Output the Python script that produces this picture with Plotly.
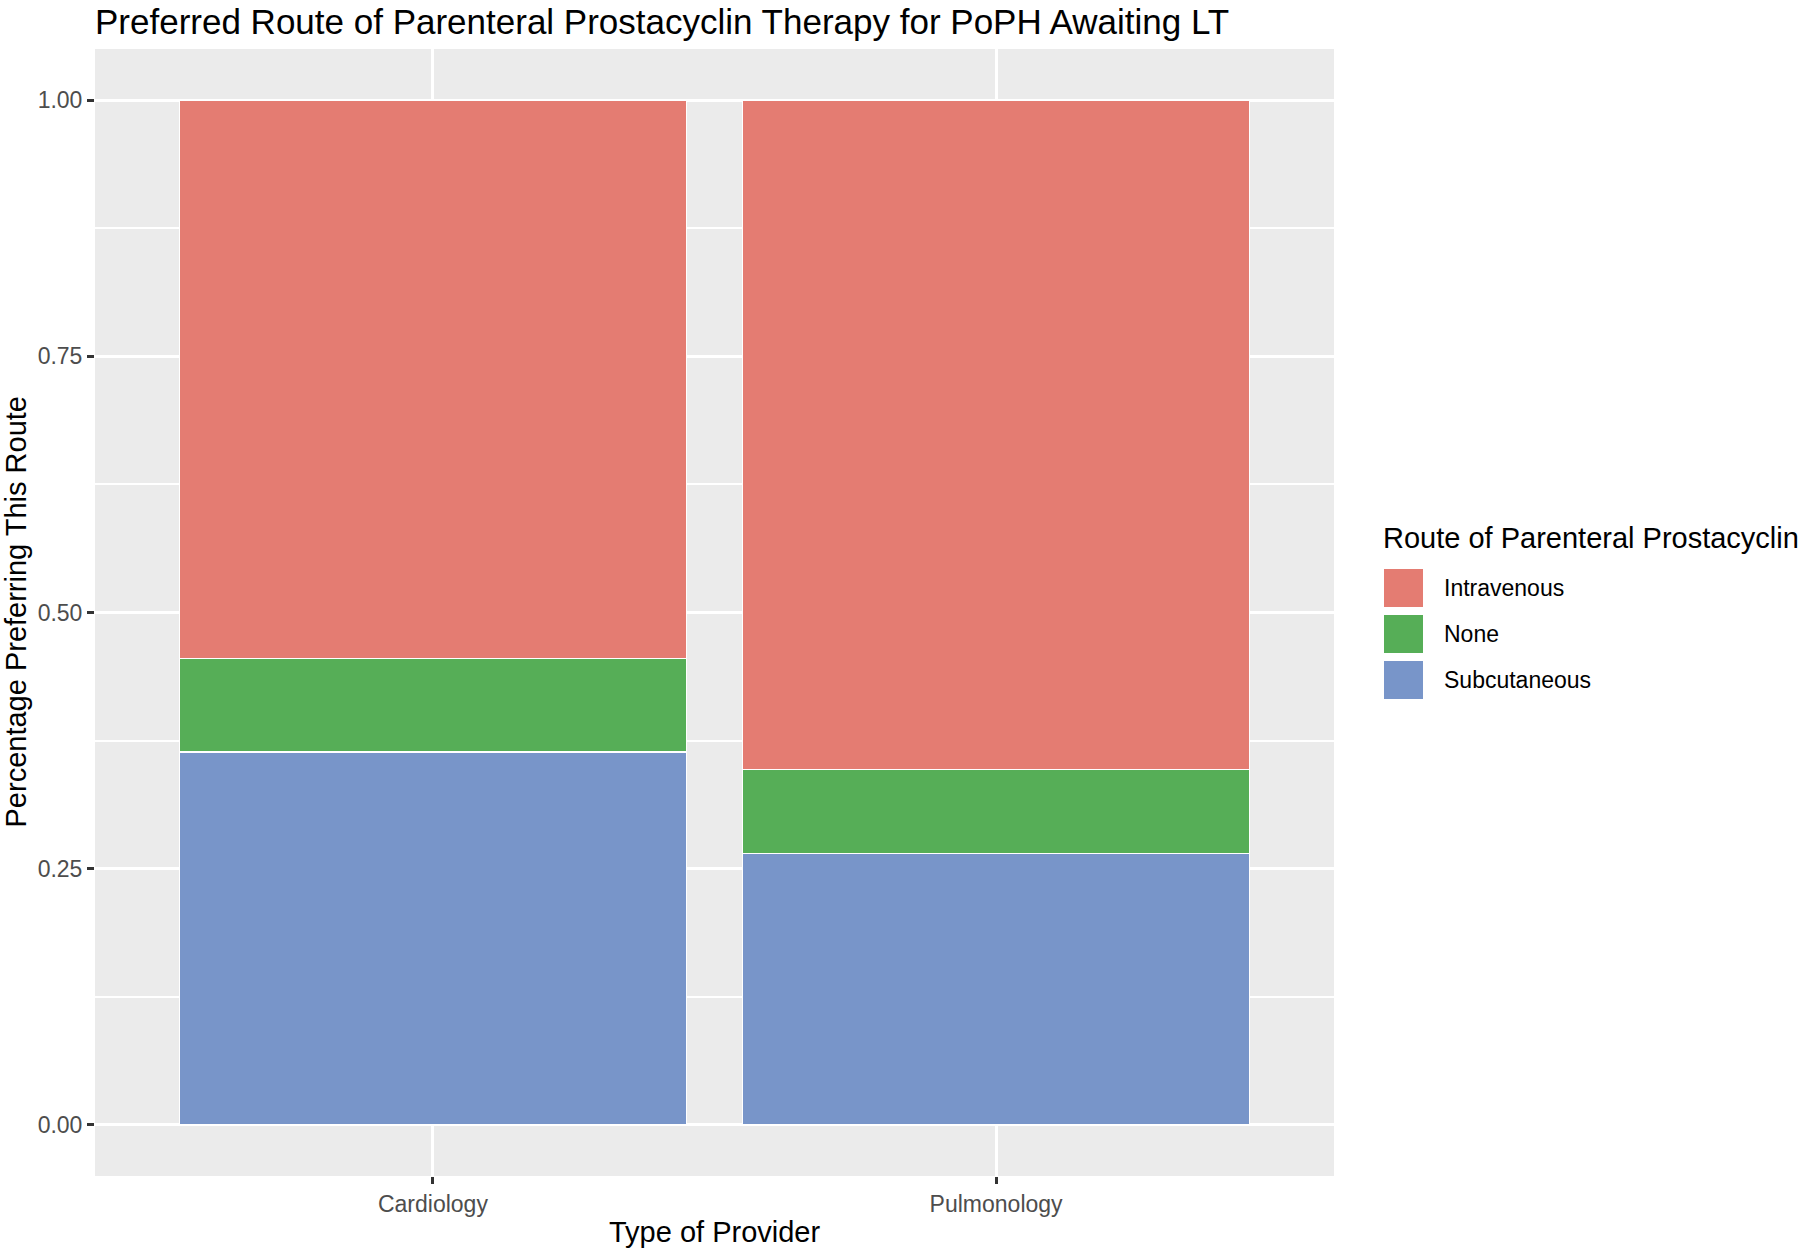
import plotly.graph_objects as go

### data
providers = ["Cardiology", "Pulmonology"]
routes = ["Intravenous", "None", "Subcutaneous"]
intravenous = [0.545, 0.653]
none_route = [0.091, 0.082]
subcutaneous = [0.364, 0.265]
route_colors = ["#E47C72", "#56AE57", "#7895C9"]

### page geometry (pixels)
W, H = 1800, 1248
L, R, T, B = 95, 1334, 49, 1176
font = "Liberation Sans, Arial, sans-serif"


def px_x(x):
    return (x - L) / (R - L)


def px_y(y):
    return (B - y) / (B - T)


fig = go.Figure()
# stacked bottom-up: Subcutaneous, None, Intravenous
for name, vals, col in [("Subcutaneous", subcutaneous, route_colors[2]),
                        ("None", none_route, route_colors[1]),
                        ("Intravenous", intravenous, route_colors[0])]:
    fig.add_trace(go.Bar(x=providers, y=vals, name=name, width=0.9,
                         marker=dict(color=col, line=dict(color="white", width=1.5)),
                         showlegend=False))

### legend drawn by hand (big ggplot style keys)
shapes = []
annotations = []
annotations.append(dict(text="Route of Parenteral Prostacyclin", x=px_x(1381), y=px_y(538),
                        xref="paper", yref="paper", xanchor="left", yanchor="middle",
                        showarrow=False, font=dict(size=29, color="black", family=font)))
key_centers = [588, 634, 680]
for lab, col, yc in zip(routes, route_colors, key_centers):
    shapes.append(dict(type="rect", xref="paper", yref="paper",
                       x0=px_x(1384), x1=px_x(1423), y0=px_y(yc + 19), y1=px_y(yc - 19),
                       fillcolor=col, line=dict(width=0)))
    annotations.append(dict(text=lab, x=px_x(1442), y=px_y(yc), xref="paper", yref="paper",
                            xanchor="left", yanchor="middle", showarrow=False,
                            font=dict(size=23, color="black", family=font)))

### axis titles
annotations.append(dict(text="Type of Provider", x=0.5, y=px_y(1232), xref="paper", yref="paper",
                        xanchor="center", yanchor="middle", showarrow=False,
                        font=dict(size=29, color="black", family=font)))
annotations.append(dict(text="Percentage Preferring This Route", x=px_x(15), y=0.5,
                        xref="paper", yref="paper", xanchor="center", yanchor="middle",
                        textangle=-90, showarrow=False,
                        font=dict(size=29, color="black", family=font)))

fig.update_layout(
    width=W, height=H,
    barmode="stack",
    plot_bgcolor="#EBEBEB", paper_bgcolor="white",
    margin=dict(l=L, r=W - R, t=T, b=H - B, autoexpand=False),
    title=dict(text="Preferred Route of Parenteral Prostacyclin Therapy for PoPH Awaiting LT",
               x=L / W, xanchor="left", y=1 - 22 / H, yanchor="middle",
               font=dict(size=35, color="black", family=font)),
    font=dict(family=font),
    shapes=shapes, annotations=annotations,
)
fig.update_xaxes(range=[-0.6, 1.6], showgrid=True, gridcolor="white", gridwidth=3,
                 ticks="outside", ticklen=7, tickwidth=3, tickcolor="#333333",
                 tickfont=dict(size=23, color="#4D4D4D", family=font),
                 zeroline=False, showline=False)
fig.update_yaxes(range=[-0.05, 1.05], tickvals=[0, 0.25, 0.5, 0.75, 1.0],
                 ticktext=["0.00", "0.25", "0.50", "0.75", "1.00"],
                 showgrid=True, gridcolor="white", gridwidth=3,
                 minor=dict(tickvals=[0.125, 0.375, 0.625, 0.875], showgrid=True,
                            gridcolor="white", gridwidth=1.5),
                 ticks="outside", ticklen=7, tickwidth=3, tickcolor="#333333",
                 tickfont=dict(size=23, color="#4D4D4D", family=font),
                 zeroline=False, showline=False)

# drop the default 8px body margin so the figure sits at the page corner
fig.write_html("out.html", config={"displayModeBar": False},
               post_script="document.body.style.margin='0';")
